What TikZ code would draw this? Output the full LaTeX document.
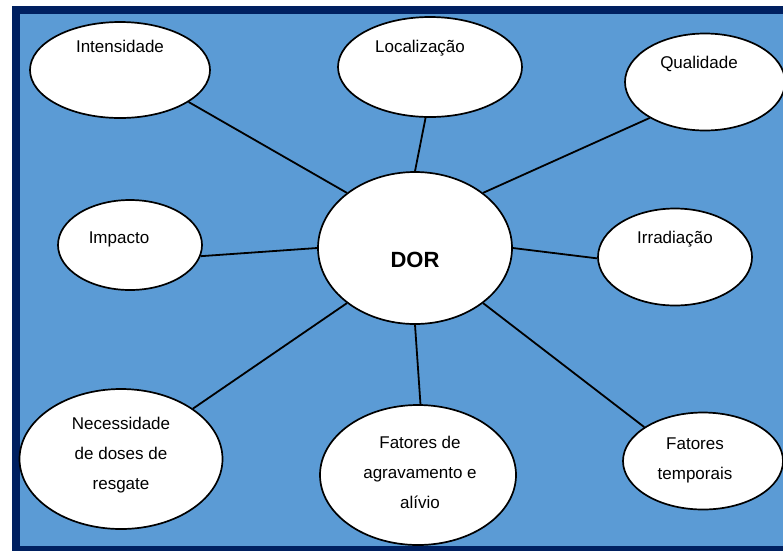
\documentclass[tikz,border=0pt]{standalone}
\usepackage{fontspec}
\setmainfont{Liberation Sans}
\usetikzlibrary{shapes.geometric}
\definecolor{fundo}{HTML}{5B9BD5}
\definecolor{moldura}{HTML}{002060}

\begin{document}
\begin{tikzpicture}[x=1pt, y=-1pt,
		bolha/.style={ellipse, draw, line width=1.7pt, fill=white, inner sep=0pt},
		linha/.style={line width=1.8pt},
		every label/.style={font=\fontsize{17}{30}\selectfont, align=center}]
		\useasboundingbox (0,0) rectangle (783,550);
		\clip (0,0) rectangle (783,550);
		\draw[moldura, line width=8pt, fill=fundo] (15.5,10) rectangle (800,550);

		\node[bolha, minimum width=180, minimum height=96, label={[yshift=24]center:Intensidade}] (int) at (120,70) {};
		\node[bolha, minimum width=184, minimum height=100, label={[xshift=-10, yshift=19]center:Localização}] (loc) at (430,67) {};
		\node[bolha, minimum width=160, minimum height=97, label={[xshift=-6, yshift=18]center:Qualidade}] (qua) at (705,82) {};
		\node[bolha, minimum width=144, minimum height=90, label={[xshift=-11, yshift=6]center:Impacto}] (imp) at (130,245) {};
		\node[bolha, minimum width=194, minimum height=152, label={[font=\fontsize{22}{26}\selectfont\bfseries, yshift=-12]center:DOR}] (dor) at (415,248) {};
		\node[bolha, minimum width=154, minimum height=97, label={[yshift=18]center:Irradiação}] (irr) at (675,257) {};
		\node[bolha, minimum width=203, minimum height=140, label={[yshift=4]center:Necessidade\\de doses de\\resgate}] (nec) at (121,459) {};
		\node[bolha, minimum width=196, minimum height=140, label={[xshift=2, yshift=3]center:Fatores de\\agravamento e\\alívio}] (agr) at (418,475) {};
		\node[bolha, minimum width=160, minimum height=97, label={[xshift=-8, yshift=1]center:Fatores\\temporais}] (tem) at (703,461) {};

		% ligacoes ao centro
		\draw[linha] (dor.141) -- (int.-25);
		\draw[linha] (dor.90) -- (loc.-95);
		\draw[linha] (dor.39) -- (qua.-147);
		\draw[linha] (dor.180) -- (imp.-9);
		\draw[linha] (dor.0) -- (irr.181);
		\draw[linha] (dor.-141) -- (nec.35);
		\draw[linha] (dor.-90) -- (agr.88);
		\draw[linha] (dor.-39) -- (tem.150);
\end{tikzpicture}
\end{document}
